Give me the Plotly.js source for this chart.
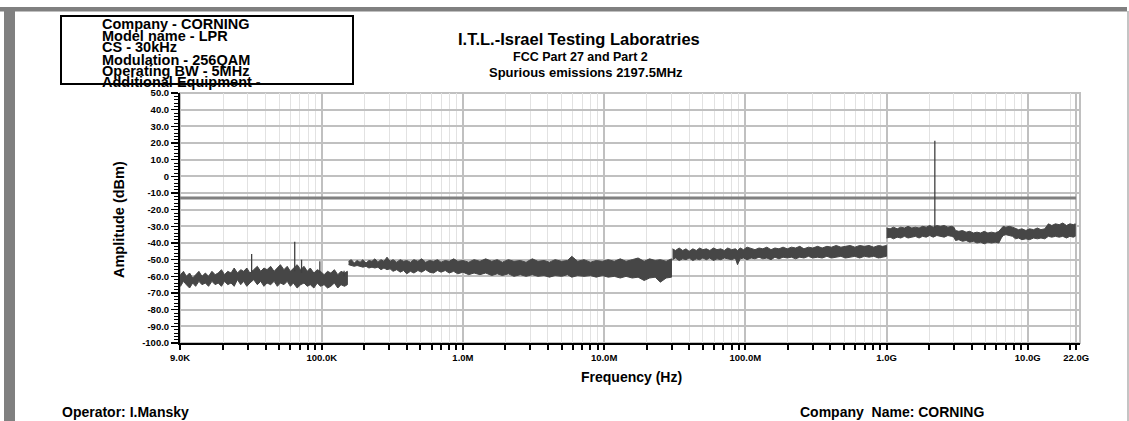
<!DOCTYPE html>
<html><head><meta charset="utf-8">
<script src="https://cdn.plot.ly/plotly-3.0.1.min.js"></script>
<style>html,body{margin:0;padding:0;background:#fff;overflow:hidden;} #chart{width:1129px;height:421px;}</style>
</head><body><div id="chart"></div>
<script>
// ---------------- DATA ----------------
// Spectrum trace envelopes: frequency (Hz), upper / lower edge of the trace band (dBm)
const seg1Freq  = [9.0e3,9.5e3,10e3,10.5e3,11e3,11.6e3,12.2e3,12.8e3,13.5e3,14.2e3,
                   15e3,15.8e3,16.7e3,17.6e3,18.5e3,19.5e3,20.5e3,21.6e3,22.8e3,24e3,
                   25.3e3,26.7e3,28e3,29.5e3,31e3,33e3,35e3,37e3,39e3,41e3,
                   43.5e3,46e3,48.5e3,51e3,54e3,57e3,60e3,63e3,67e3,71e3,
                   75e3,79e3,83e3,88e3,93e3,98e3,104e3,110e3,116e3,123e3,
                   130e3,137e3,145e3,152e3];
const seg1Upper = [-58,-61,-59,-57,-60,-58,-61,-59,-57,-60,
                   -58,-60,-57,-59,-58,-56,-59,-57,-58,-55,
                   -58,-56,-57,-55,-58,-56,-54,-57,-55,-56,
                   -54,-57,-55,-53,-56,-54,-57,-55,-53,-56,
                   -54,-57,-55,-58,-56,-57,-59,-57,-58,-56,
                   -59,-57,-58,-57];
const seg1Lower = [-67,-64,-66,-63,-65,-67,-64,-66,-63,-65,
                   -64,-66,-63,-65,-64,-66,-63,-65,-64,-66,
                   -62,-65,-63,-66,-64,-62,-65,-63,-66,-64,
                   -65,-63,-66,-64,-65,-63,-66,-64,-67,-65,
                   -64,-66,-65,-67,-64,-66,-65,-67,-66,-64,
                   -67,-65,-66,-65];

const seg2Freq  = [155e3,162e3,170e3,178e3,187e3,196e3,206e3,216e3,227e3,238e3,
                   250e3,263e3,276e3,290e3,305e3,320e3,340e3,360e3,380e3,400e3,
                   425e3,450e3,480e3,510e3,545e3,580e3,620e3,660e3,700e3,750e3,
                   800e3,860e3,920e3,1.0e6,1.1e6,1.2e6,1.32e6,1.45e6,1.6e6,1.75e6,
                   1.9e6,2.1e6,2.3e6,2.55e6,2.8e6,3.1e6,3.4e6,3.75e6,4.1e6,4.5e6,
                   5.0e6,5.5e6,5.9e6,6.5e6,7.2e6,8.0e6,8.8e6,9.7e6,10.7e6,11.8e6,
                   13e6,14.3e6,15.8e6,17.4e6,19.2e6,21e6,23e6,25e6,27.5e6,30e6];
const seg2Upper = [-51,-50,-52,-50.5,-51.5,-50,-52,-50.5,-51,-49.5,
                   -51.5,-50,-51,-48.5,-51,-50,-51.5,-50,-51,-50.5,
                   -51.5,-50,-51,-49.5,-51.5,-50.5,-51,-50,-51.5,-50.5,
                   -51,-49.5,-51,-50.5,-51.5,-50,-51,-49.5,-51,-50,
                   -51.5,-50,-51,-50.5,-51.5,-49.5,-51,-50.5,-51.5,-50,
                   -51,-50.5,-48,-51,-50,-51.5,-50.5,-51,-50,-51,
                   -49.5,-51,-50,-49,-51,-49.5,-50.5,-50,-51,-49.5];
const seg2Lower = [-53,-53.5,-54,-53.5,-54,-54.5,-54,-55,-54.5,-55,
                   -54.5,-56,-55,-56,-55.5,-57,-56,-57.5,-56.5,-58.5,
                   -57,-58,-56.5,-57.5,-56,-57.5,-58,-56.5,-57.5,-56.5,
                   -58,-57,-58.5,-57.5,-59,-58,-59,-58,-59.5,-58.5,
                   -59.5,-58.5,-60,-59,-60,-59,-60,-59.5,-60.5,-59.5,
                   -60,-59,-60.5,-59.5,-60,-59.5,-60.5,-59.5,-60.5,-60,
                   -61,-60,-61,-60.5,-62.5,-61,-60.5,-63.5,-61,-60.5];

const seg3Freq  = [30.5e6,32e6,34e6,36e6,38e6,40e6,42.5e6,45e6,47.5e6,50e6,
                   53e6,56e6,59.5e6,63e6,67e6,71e6,75e6,80e6,85e6,88e6,
                   92e6,97e6,103e6,110e6,117e6,125e6,133e6,142e6,152e6,162e6,
                   173e6,185e6,198e6,212e6,227e6,243e6,260e6,280e6,300e6,325e6,
                   350e6,378e6,408e6,440e6,475e6,512e6,553e6,597e6,645e6,697e6,
                   752e6,812e6,877e6,940e6,1.0e9];
const seg3Upper = [-43.5,-44.5,-43,-44.5,-43.5,-45,-43.5,-44.5,-43,-44,
                   -43.5,-44.5,-43,-44,-43.5,-44.5,-43,-44,-43.5,-44.5,
                   -43,-44,-42.5,-43.5,-44,-43,-43.5,-42.5,-44,-43,
                   -43.5,-42.5,-43.5,-42.5,-43,-42,-43.5,-42.5,-43,-42,
                   -43,-42,-42.5,-41.5,-42.5,-42,-41.5,-42.5,-41.5,-42,
                   -41.5,-42.5,-41.5,-42,-41.5];
const seg3Lower = [-50,-49,-50.5,-49.5,-50,-49,-50.5,-49.5,-50,-49,
                   -50,-49,-50.5,-49.5,-50,-49,-49.5,-50,-49,-53,
                   -49.5,-49,-50,-49,-49.5,-48.5,-49.5,-49,-50,-48.5,
                   -49.5,-48.5,-49,-48.5,-49.5,-48.5,-49,-48,-49,-48.5,
                   -49,-48,-49,-48.5,-48,-49,-48.5,-48,-49,-48,
                   -48.5,-48,-49,-48.5,-48];

const seg4Freq  = [1.0e9,1.06e9,1.12e9,1.19e9,1.26e9,1.34e9,1.42e9,1.51e9,1.6e9,1.7e9,
                   1.8e9,1.91e9,2.02e9,2.14e9,2.27e9,2.41e9,2.56e9,2.72e9,2.88e9,3.0e9,
                   3.08e9,3.25e9,3.45e9,3.66e9,3.88e9,4.12e9,4.37e9,4.64e9,4.92e9,5.22e9,
                   5.54e9,5.88e9,6.24e9,6.5e9,6.7e9,7.0e9,7.4e9,7.8e9,8.2e9,8.6e9,
                   9.1e9,9.7e9,10.3e9,11e9,11.7e9,12.4e9,13.2e9,14.0e9,14.8e9,15.7e9,
                   16.7e9,17.7e9,18.8e9,19.9e9,21e9,21.7e9];
const seg4Upper = [-31,-31.5,-30.5,-31.5,-30.5,-31,-30,-31,-30.5,-31,
                   -30,-30.5,-29.5,-30.5,-29.5,-30,-29.5,-30.5,-30,-30.5,
                   -32.5,-33,-32.5,-33.5,-33,-34,-33.5,-34,-33,-34,
                   -33.5,-34,-33,-31,-30,-30.5,-30,-30.5,-31.5,-32,
                   -31.5,-32.5,-31.5,-32,-31,-32,-31.5,-28.5,-29.5,-28.5,
                   -29,-28,-29.5,-28.5,-29,-28.5];
const seg4Lower = [-37,-36.5,-37.5,-36.5,-37,-36,-37,-36.5,-36,-37,
                   -36,-36.5,-35.5,-36.5,-35.5,-36,-36.5,-35.5,-36,-36.5,
                   -38.5,-38,-39,-38.5,-39.5,-39,-40,-39.5,-40.5,-39.5,
                   -40,-39.5,-40,-37,-35.5,-35,-35.5,-36,-37.5,-37,
                   -38,-37.5,-38,-37,-37.5,-37,-37.5,-36,-36.5,-36,
                   -36.5,-36,-37,-36,-36.5,-36];

// Narrow spikes: frequency, foot level, peak level
const spikeFreq = [31.9e3, 64.4e3, 72e3, 97e3, 144e3, 2.1975e9];
const spikeBase = [-58, -57, -58, -58, -60, -31];
const spikePeak = [-46.6, -39.2, -50, -51, -56.6, 21.4];

// Limit line
const limitFreq  = [9.0e3, 22.0e9];
const limitLevel = [-13, -13];

// Axis ticks
const xTickVals = [Math.pow(10, 3.9965), 1e5, 1e6, 1e7, 1e8, 1e9, 1e10, 2.2e10];
const xTickText = ['9.0K','100.0K','1.0M','10.0M','100.0M','1.0G','10.0G','22.0G'];
const yTickVals = [50,40,30,20,10,0,-10,-20,-30,-40,-50,-60,-70,-80,-90,-100];
const yTickText = ['50.0','40.0','30.0','20.0','10.0','0','-10.0','-20.0','-30.0','-40.0','-50.0','-60.0','-70.0','-80.0','-90.0','-100.0'];

// Texts
const infoLines  = ['Company - CORNING','Model name - LPR','CS - 30kHz','Modulation - 256QAM','Operating BW - 5MHz','Additional Equipment -'];
const titleLines = ['I.T.L.-Israel Testing Laboratries','FCC Part 27 and Part 2','Spurious emissions 2197.5MHz'];
const footerLeft  = 'Operator: I.Mansky';
const footerRight = 'Company  Name: CORNING';
const xTitle = 'Frequency (Hz)';
const yTitle = 'Amplitude (dBm)';

// ---------------- LAYOUT HELPERS ----------------
const W = 1129, H = 421;
const M = {l:180, r:49, t:93, b:78, pad:0};
const PW = W - M.l - M.r, PH = H - M.t - M.b;
const px = x => (x - M.l) / PW;
const py = y => 1 - (y - M.t) / PH;
const FONT = 'Liberation Sans, Arial, Helvetica, sans-serif';
const TRACE = '#464646';

function band(f, up, lo) {
  return {
    type: 'scatter', mode: 'lines',
    x: f.concat(f.slice().reverse()),
    y: up.concat(lo.slice().reverse()),
    fill: 'toself', fillcolor: TRACE,
    line: {color: TRACE, width: 1},
    hoverinfo: 'skip', showlegend: false
  };
}

const spikeX = [], spikeY = [];
spikeFreq.forEach((f, i) => { spikeX.push(f, f, null); spikeY.push(spikeBase[i], spikePeak[i], null); });

const traces = [
  {type:'scatter', mode:'lines', x: limitFreq, y: limitLevel, line:{color:'#808080', width:3}, showlegend:false, hoverinfo:'skip'},
  band(seg1Freq, seg1Upper, seg1Lower),
  band(seg2Freq, seg2Upper, seg2Lower),
  band(seg3Freq, seg3Upper, seg3Lower),
  band(seg4Freq, seg4Upper, seg4Lower),
  {type:'scatter', mode:'lines', x: spikeX, y: spikeY, line:{color:'#404040', width:1.3}, connectgaps:false, showlegend:false, hoverinfo:'skip'}
];

// minor x ticks at 2..9 of each decade
const xMinor = [];
for (let d = 3; d <= 10; d++) for (let k = 2; k <= 9; k++) xMinor.push(k * Math.pow(10, d));

const ann = [];
function addText(text, x, y, size, anchor, angle) {
  ann.push({text, xref:'paper', yref:'paper', x: px(x), y: py(y), xanchor: anchor || 'left', yanchor:'middle',
    showarrow:false, textangle: angle || 0, font:{family:FONT, size, color:'#000', weight:'bold'}});
}
const infoY = [23.5, 35, 46.5, 59.5, 70.5, 82];
infoLines.forEach((t, i) => addText(t, 100, infoY[i] + 0.5, 14.5, 'left'));
addText(titleLines[0], 579, 38.5, 16.5, 'center');
addText(titleLines[1], 580, 57, 12.5, 'center');
addText(titleLines[2], 586, 72.5, 13, 'center');
addText(xTitle, 631, 377, 14, 'center');
addText(yTitle, 118.5, 219.5, 14.5, 'center', -90);
addText(footerLeft, 60, 412, 14, 'left');
addText(footerRight, 798, 412, 14, 'left');

const shapes = [
  {type:'rect', xref:'paper', yref:'paper', x0:0, x1:1, y0:0, y1:1, line:{color:'#c0c0c0', width:2}, layer:'below'},
  {type:'rect', xref:'paper', yref:'paper', x0:px(0), x1:px(1127), y0:py(11.5), y1:py(7), fillcolor:'#808080', line:{width:0}},
  {type:'rect', xref:'paper', yref:'paper', x0:px(4), x1:px(15), y0:py(421), y1:py(7), fillcolor:'#808080', line:{width:0}},
  {type:'rect', xref:'paper', yref:'paper', x0:px(1127), x1:px(1129), y0:py(421), y1:py(11), fillcolor:'#c4c4c4', line:{width:0}},
  {type:'rect', xref:'paper', yref:'paper', x0:px(61), x1:px(353), y0:py(84), y1:py(16), line:{color:'#000', width:2}}
];

const layout = {
  width: W, height: H, margin: M,
  paper_bgcolor:'#fff', plot_bgcolor:'#fff',
  showlegend:false,
  xaxis: {
    type:'log', range:[3.9965, 10.370], autorange:false,
    tickmode:'array', tickvals: xTickVals, ticktext: xTickText,
    ticks:'outside', ticklen:5, tickwidth:2, tickcolor:'#000',
    showline:true, linecolor:'#000', linewidth:2,
    showgrid:true, gridcolor:'#c0c0c0', gridwidth:2,
    tickfont:{family:FONT, size:9.5, color:'#000', weight:'bold'},
    minor:{tickmode:'array', tickvals:xMinor, ticks:'outside', ticklen:5, tickwidth:2, tickcolor:'#000', showgrid:true, gridcolor:'#e2e2e2', gridwidth:1},
    zeroline:false, fixedrange:true
  },
  yaxis: {
    range:[-100, 50], autorange:false,
    tickmode:'array', tickvals: yTickVals, ticktext: yTickText,
    ticks:'outside', ticklen:7, tickwidth:1.5, tickcolor:'#000',
    showline:true, linecolor:'#000', linewidth:2,
    showgrid:true, gridcolor:'#c0c0c0', gridwidth:2,
    tickfont:{family:FONT, size:9.5, color:'#000', weight:'bold'},
    minor:{dtick:2, ticks:'outside', ticklen:4, tickwidth:1, tickcolor:'#000', showgrid:false},
    zeroline:false, fixedrange:true
  },
  annotations: ann,
  shapes: shapes
};

Plotly.newPlot('chart', traces, layout, {displayModeBar:false, staticPlot:true});
</script></body></html>
